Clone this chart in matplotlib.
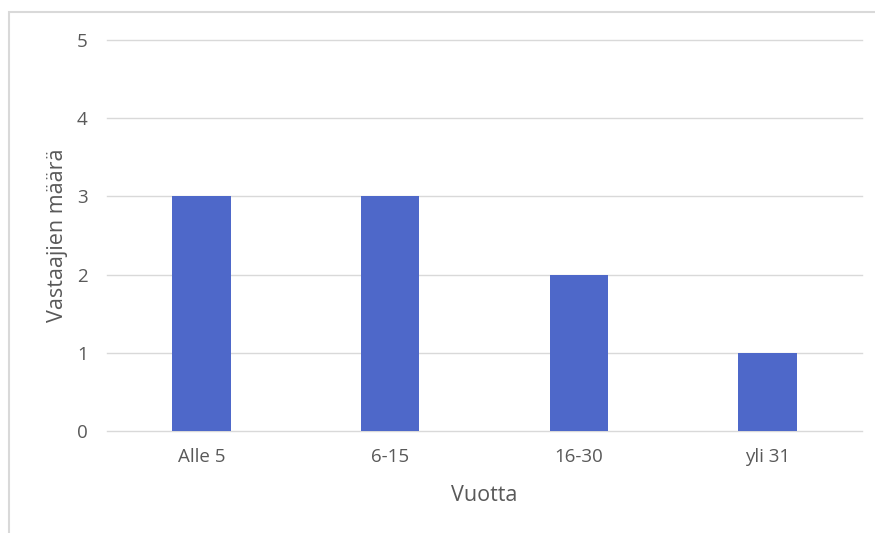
import matplotlib
matplotlib.use("Agg")
import matplotlib.pyplot as plt
from matplotlib.patches import Rectangle

categories = ["Alle 5", "6-15", "16-30", "yli 31"]
values = [3, 3, 2, 1]
yticks = [0, 1, 2, 3, 4, 5]

plt.rcParams['font.family'] = ['Open Sans', 'DejaVu Sans']
W, H = 875, 533
fig = plt.figure(figsize=(W / 100, H / 100), dpi=100)
ax = fig.add_axes([107 / W, 1 - 431 / H, (862 - 107) / W, (431 - 40) / H])

# outer chart border (partially visible)
fig.patches.append(Rectangle((9 / W, -0.05), 1.2, 1 - 12 / H + 0.05,
                             transform=fig.transFigure, fill=False,
                             edgecolor='#d9d9d9', linewidth=1.5))

x = list(range(len(categories)))
ax.bar(x, values, width=0.31, color='#4E68C9', zorder=3)
ax.set_xlim(-0.5, len(categories) - 0.5)
ax.set_ylim(0, 5)
ax.set_yticks(yticks)
ax.set_xticks(x)
ax.set_xticklabels(categories)
for t in yticks:
    ax.axhline(t, color='#d9d9d9', linewidth=1.0, zorder=0, clip_on=False)
for s in ax.spines.values():
    s.set_visible(False)
ax.tick_params(axis='both', length=0, colors='#595959', labelsize=13.5)
ax.tick_params(axis='y', pad=14)
ax.tick_params(axis='x', pad=12)
ax.set_ylabel("Vastaajien määrä", fontsize=15.5, color='#595959', labelpad=6)
ax.set_xlabel("Vuotta", fontsize=15.5, color='#595959', labelpad=14)

fig.savefig("out.png", dpi=100, facecolor='white')
